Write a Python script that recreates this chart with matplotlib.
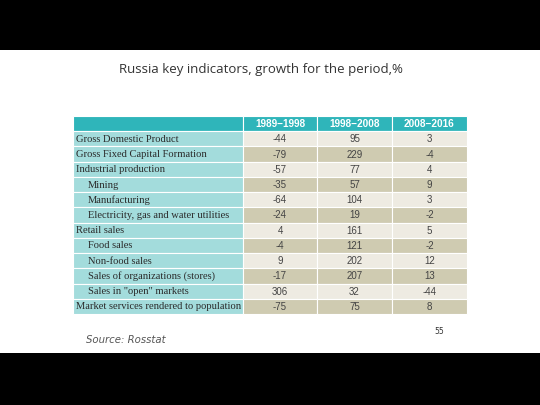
import matplotlib
matplotlib.use("Agg")
import matplotlib.pyplot as plt
from matplotlib.patches import Rectangle

title = "Russia key indicators, growth for the period,%"
periods = ["1989\u22121998", "1998\u22122008", "2008\u22122016"]
indicators = [
    "Gross Domestic Product",
    "Gross Fixed Capital Formation",
    "Industrial production",
    "Mining",
    "Manufacturing",
    "Electricity, gas and water utilities",
    "Retail sales",
    "Food sales",
    "Non-food sales",
    "Sales of organizations (stores)",
    'Sales in "open" markets',
    "Market services rendered to population",
]
sub_item = [0, 0, 0, 1, 1, 1, 0, 1, 1, 1, 1, 0]
growth_1989_1998 = [-44, -79, -57, -35, -64, -24, 4, -4, 9, -17, 306, -75]
growth_1998_2008 = [95, 229, 77, 57, 104, 19, 161, 121, 202, 207, 32, 75]
growth_2008_2016 = [3, -4, 4, 9, 3, -2, 5, -2, 12, 13, -44, 8]
source = "Source: Rosstat"
page_no = "55"

cols = [growth_1989_1998, growth_1998_2008, growth_2008_2016]
num_font = ["Liberation Sans Narrow", "Liberation Sans", "DejaVu Sans"]

fig = plt.figure(figsize=(5.4, 4.05), dpi=100)
ax = fig.add_axes([0, 0, 1, 1])
ax.set_xlim(0, 540)
ax.set_ylim(405, 0)
ax.axis("off")

# black bands top and bottom
ax.add_patch(Rectangle((0, 0), 540, 50, color="black", lw=0))
ax.add_patch(Rectangle((0, 353), 540, 52, color="black", lw=0))

ax.text(261, 70, title, ha="center", va="center", fontsize=9.5,
        family="Open Sans", color="#333333")

# table geometry
x0 = 73
edges = [x0, 243, 317, 392, 467]
top = 116
rh = (314 - top) / 13.0
teal = "#2fb5ba"
label_bg = "#a3dcdc"
light = "#eeebe2"
dark = "#cfcbb1"

# header
for j in range(4):
    ax.add_patch(Rectangle((edges[j], top), edges[j + 1] - edges[j], rh,
                           facecolor=teal, edgecolor="white", lw=0.8))
for j, p in enumerate(periods):
    ax.text((edges[j + 1] + edges[j + 2]) / 2, top + rh / 2 + 0.5, p,
            ha="center", va="center", fontsize=7.2, fontweight="bold",
            color="white", family=num_font)

for i, name in enumerate(indicators):
    y = top + rh * (i + 1)
    ax.add_patch(Rectangle((edges[0], y), edges[1] - edges[0], rh,
                           facecolor=label_bg, edgecolor="white", lw=0.8))
    ax.text(edges[0] + 3 + 12 * sub_item[i], y + rh / 2 + 0.5, name,
            ha="left", va="center", fontsize=7.6, family="Liberation Serif",
            color="#2a2a2a")
    bg = light if i % 2 == 0 else dark
    for j in range(3):
        ax.add_patch(Rectangle((edges[j + 1], y), edges[j + 2] - edges[j + 1], rh,
                               facecolor=bg, edgecolor="white", lw=0.8))
        ax.text((edges[j + 1] + edges[j + 2]) / 2, y + rh / 2 + 0.5,
                str(cols[j][i]), ha="center", va="center", fontsize=7,
                family=num_font, color="#444444")

ax.text(86, 340, source, ha="left", va="center", fontsize=7.3,
        style="italic", family="DejaVu Sans", color="#555555")
ax.text(439, 332, page_no, ha="center", va="center", fontsize=5.5,
        family="DejaVu Sans", color="#333333")

fig.savefig("out.png", dpi=100)
